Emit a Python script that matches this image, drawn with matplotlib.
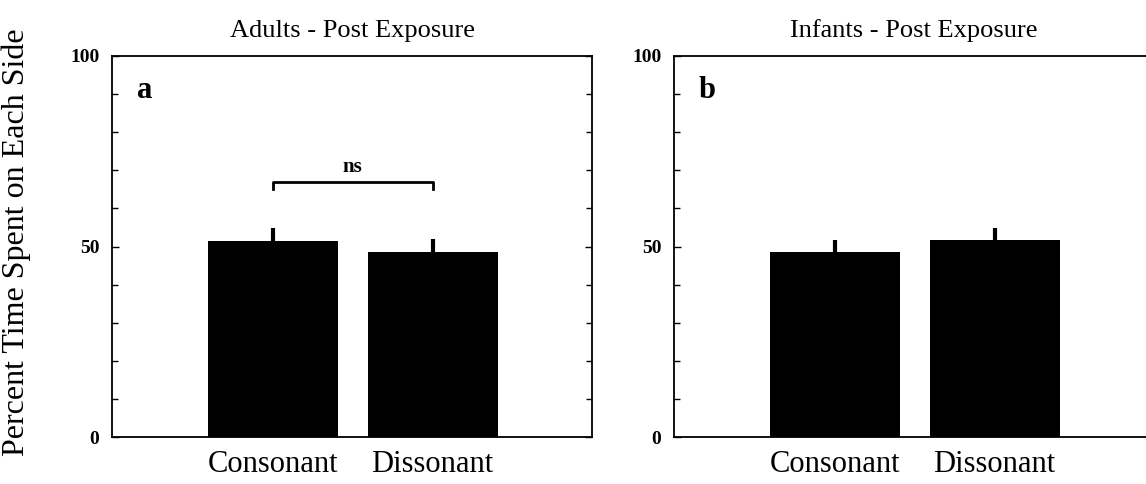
import matplotlib
matplotlib.use('Agg')
import matplotlib.pyplot as plt
from matplotlib.ticker import MultipleLocator

# data
conditions = ['Consonant', 'Dissonant']
adults_mean = [51.4, 48.6]
adults_err = [3.5, 3.4]
infants_mean = [48.6, 51.7]
infants_err = [3.1, 3.2]
titles = ['Adults - Post Exposure', 'Infants - Post Exposure']
panel_tags = ['a', 'b']
ns_height = 67

plt.rcParams['font.family'] = ['Liberation Serif', 'DejaVu Serif']

fig = plt.figure(figsize=(11.46, 4.84), dpi=100)
ax1 = fig.add_axes([112 / 1146, 47 / 484, 480 / 1146, 381 / 484])
ax2 = fig.add_axes([674 / 1146, 47 / 484, 480 / 1146, 381 / 484])

x = [0, 1]
for ax, means, errs, title, tag in zip([ax1, ax2], [adults_mean, infants_mean],
                                       [adults_err, infants_err], titles, panel_tags):
    ax.bar(x, means, width=0.815, color='black', yerr=errs,
           error_kw=dict(ecolor='black', elinewidth=3, capsize=0))
    ax.set_xlim(-1.01, 2.0)
    ax.set_ylim(0, 100)
    ax.set_xticks(x)
    ax.set_xticklabels(conditions, fontsize=22)
    ax.tick_params(axis='x', length=0, pad=9)
    ax.set_yticks([0, 50, 100])
    ax.yaxis.set_minor_locator(MultipleLocator(10))
    ax.tick_params(axis='y', which='both', direction='in', right=True,
                   labelsize=14, pad=9, width=1)
    ax.tick_params(axis='y', which='major', length=5)
    ax.tick_params(axis='y', which='minor', length=4)
    for lbl in ax.get_yticklabels():
        lbl.set_fontweight('bold')
    for sp in ax.spines.values():
        sp.set_linewidth(1.3)
    ax.set_title(title, fontsize=19, pad=14)
    ax.text(0.052, 0.91, tag, transform=ax.transAxes, fontsize=22,
            fontweight='bold', va='center', ha='left')

# ns bracket on adults panel
ax1.plot([0, 0, 1, 1], [ns_height - 2, ns_height, ns_height, ns_height - 2],
         color='black', lw=2)
ax1.text(0.5, ns_height + 1.2, 'ns', ha='center', va='bottom',
         fontsize=15, fontweight='bold')

fig.text(0.014, 0.5, 'Percent Time Spent on Each Side', rotation=90,
         fontsize=23, va='center', ha='center')

fig.savefig('out.png', dpi=100)
